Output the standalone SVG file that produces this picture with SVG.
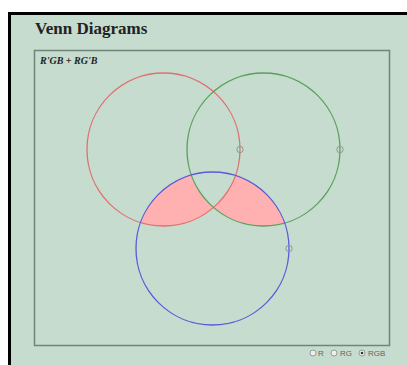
<svg xmlns="http://www.w3.org/2000/svg" width="407" height="365" viewBox="0 0 407 365">
<style>
.c{fill:none;stroke-width:1.3}
.m{fill:none;stroke:#8a9a90;stroke-width:1}
.rl{font-family:"Liberation Sans",Arial,sans-serif;font-size:8px;fill:#666}
.rb{fill:#eee;stroke:#888;stroke-width:0.8}
</style>
<defs>
<clipPath id="blueClip"><circle cx="212.5" cy="248.5" r="76.5"/></clipPath>
</defs>
<rect x="0" y="0" width="407" height="365" fill="#ffffff"/>
<rect x="8" y="12" width="399" height="353" fill="#c5dccf"/>
<path d="M9.5 365 V13.5 H407" fill="none" stroke="#000" stroke-width="3"/>
<text x="35" y="34" font-family="'Liberation Serif','Times New Roman',serif" font-weight="bold" font-size="17" fill="#222">Venn Diagrams</text>
<rect x="34.5" y="50.5" width="355" height="295" fill="none" stroke="#6f8577" stroke-width="1.5"/>
<text x="40" y="64" font-family="'Liberation Serif','Times New Roman',serif" font-weight="bold" font-style="italic" font-size="10" fill="#222">R'GB + RG'B</text>
<g id="region">
<path clip-path="url(#blueClip)" fill="#ffb0b0" fill-rule="evenodd" d="M87 149.5 a76.5 76.5 0 1 0 153 0 a76.5 76.5 0 1 0 -153 0 Z M187 149.5 a76.5 76.5 0 1 0 153 0 a76.5 76.5 0 1 0 -153 0 Z"/>
</g>
<g id="red"><circle class="c" cx="163.5" cy="149.5" r="76.5" stroke="#e07070"/><circle class="m" cx="240" cy="149.5" r="3.2"/></g>
<g id="green"><circle class="c" cx="263.5" cy="149.5" r="76.5" stroke="#5aa05a"/><circle class="m" cx="340" cy="149.5" r="3.2"/></g>
<g id="blue"><circle class="c" cx="212.5" cy="248.5" r="76.5" stroke="#5a5ad8"/><circle class="m" cx="289" cy="248.5" r="3.2"/></g>
<g id="radios">
<circle class="rb" cx="313" cy="353" r="3"/><text class="rl" x="318" y="356">R</text>
<circle class="rb" cx="334" cy="353" r="3"/><text class="rl" x="340" y="356">RG</text>
<circle class="rb" cx="362" cy="353" r="3"/><circle cx="362" cy="353" r="1.3" fill="#333"/><text class="rl" x="368" y="356">RGB</text>
</g>
</svg>
